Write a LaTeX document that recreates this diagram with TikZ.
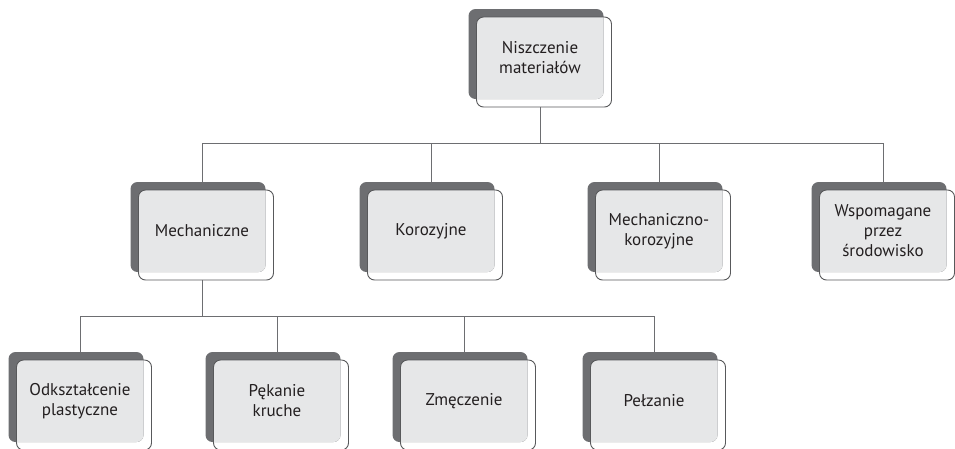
\documentclass[tikz,border=0pt]{standalone}
\usepackage{fontspec}
\setmainfont{PT Sans}
\definecolor{dgray}{HTML}{6D6E71}
\definecolor{lgray}{HTML}{E6E7E8}
\definecolor{ogray}{HTML}{58595B}
\definecolor{tgray}{HTML}{231F20}
\tikzset{
  conn/.style={draw=dgray, line width=1pt},
  boxtext/.style={align=center, text=tgray, inner sep=0pt,
    font=\fontsize{17}{20}\selectfont, minimum width=143pt, minimum height=98pt},
  darkback/.style={fill=dgray, rounded corners=7pt},
  lightfill/.style={fill=lgray, rounded corners=7pt},
  outline/.style={draw=ogray, line width=0.9pt, rounded corners=7pt}
}
\newcommand\catbox[4]{%
  \begin{scope}[shift={(#2-71.5,#3)}]
    \path[darkback] (0,0) rectangle (135,90);
    \begin{scope}
      \clip[rounded corners=7pt] (8,8) rectangle (143,98);
      \path[lightfill] (0,0) rectangle (135,90);
    \end{scope}
    \path[outline] (8,8) rectangle (143,98);
  \end{scope}
  \node[boxtext] (#1) at (#2,#3+49) {#4};
}
\begin{document}
\begin{tikzpicture}[x=1pt,y=-1pt]
  \useasboundingbox (0,0) rectangle (955,448);
  \catbox{top}{540}{9}{Niszczenie\\materiałów}
  \catbox{mech}{202}{182}{Mechaniczne}
  \catbox{kor}{431}{182}{Korozyjne}
  \catbox{mk}{659}{182}{Mechaniczno-\\korozyjne}
  \catbox{wsp}{883}{182}{Wspomagane\\przez\\środowisko}
  \catbox{odk}{80}{352}{Odkształcenie\\plastyczne}
  \catbox{pek}{277}{352}{Pękanie\\kruche}
  \catbox{zme}{464}{352}{Zmęczenie}
  \catbox{pel}{654}{352}{Pełzanie}
  \coordinate (bus1) at (0,143);
  \coordinate (bus2) at (0,316);
  \draw[conn] (top.south) -- (top.south |- bus1);
  \draw[conn] (mech.north) -- (mech.north |- bus1) -- (wsp.north |- bus1) -- (wsp.north);
  \draw[conn] (kor.north) -- (kor.north |- bus1);
  \draw[conn] (mk.north) -- (mk.north |- bus1);
  \draw[conn] (mech.south) -- (mech.south |- bus2);
  \draw[conn] (odk.north) -- (odk.north |- bus2) -- (pel.north |- bus2) -- (pel.north);
  \draw[conn] (pek.north) -- (pek.north |- bus2);
  \draw[conn] (zme.north) -- (zme.north |- bus2);
\end{tikzpicture}
\end{document}
